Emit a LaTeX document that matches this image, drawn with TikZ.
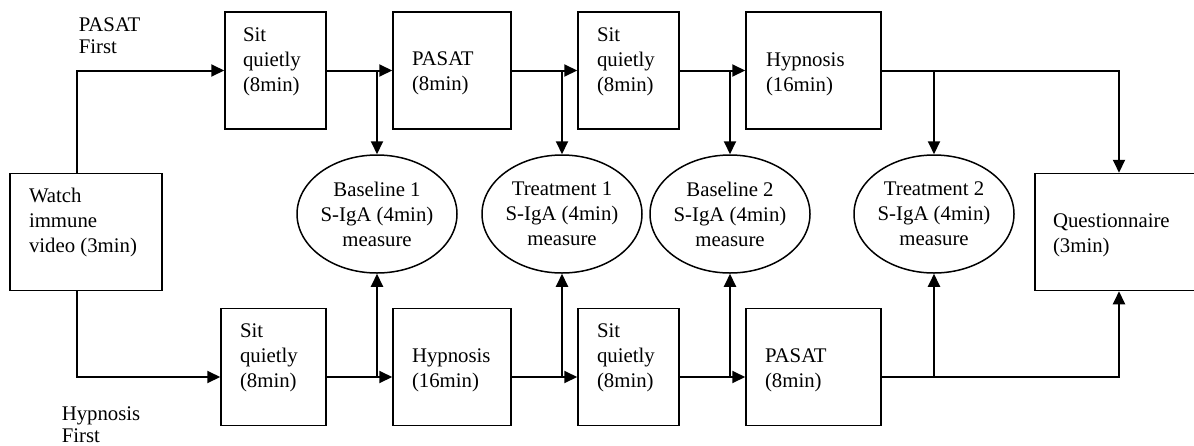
\documentclass[tikz,border=0pt]{standalone}
\usepackage{fontspec}
\setmainfont{Liberation Serif}
\usetikzlibrary{arrows.meta,shapes.geometric,positioning,calc}
\tikzset{every picture/.style={line width=0.75pt}}

\begin{document}
\begin{tikzpicture}[x=0.5pt,y=-0.5pt,
    box/.style={draw, rectangle, inner sep=0pt, minimum height=58.5pt},
    oval/.style={draw, ellipse, minimum width=80pt, minimum height=59pt, inner sep=0pt,
                 align=center, font=\fontsize{10.4}{12.5}\selectfont},
    txt/.style={anchor=north west, inner sep=0pt, align=left, font=\fontsize{10.4}{12.5}\selectfont},
    grp/.style={txt, font=\fontsize{10.4}{11}\selectfont},
    arr/.style={line width=1pt, -{Triangle[length=6.5pt,width=6pt]}}]
    \useasboundingbox (0,0) rectangle (1194,445);
    \clip (0,0) rectangle (1194,445);

    % start and end
    \node[box, minimum width=76pt] (w) at (86,232) {};
    \node[box, minimum width=84pt] (q) at (1119,232) {};

    % PASAT first row
    \node[box, minimum width=50.5pt] (ts1) at (275.5,70.5) {};
    \node[box, minimum width=59pt]   (tp)  at (452,70.5) {};
    \node[box, minimum width=50.5pt] (ts2) at (628.5,70.5) {};
    \node[box, minimum width=67.5pt] (th)  at (813.5,70.5) {};

    % Hypnosis first row
    \node[box, minimum width=52.5pt] (bs1) at (273.5,367) {};
    \node[box, minimum width=59pt]   (bh)  at (452,367) {};
    \node[box, minimum width=50.5pt] (bs2) at (628.5,367) {};
    \node[box, minimum width=67.5pt] (bp)  at (813.5,367) {};

    % saliva samples
    \node[oval] (b1) at (377,214) {Baseline 1\\S-IgA (4min)\\measure};
    \node[oval] (t1) at (562,214) {Treatment 1\\S-IgA (4min)\\measure};
    \node[oval] (b2) at (730,214) {Baseline 2\\S-IgA (4min)\\measure};
    \node[oval] (t2) at (934,214) {Treatment 2\\S-IgA (4min)\\measure};

    % box texts
    \node[txt] (wt)   at ($(w.north west)+(19,15)$)   {Watch\\immune\\video (3min)};
    \node[txt] (qt)   at ($(q.north west)+(18,40)$)   {Questionnaire\\(3min)};
    \node[txt] (ts1t) at ($(ts1.north west)+(18,16)$) {Sit\\quietly\\(8min)};
    \node[txt] (tpt)  at ($(tp.north west)+(19,40)$)  {PASAT\\(8min)};
    \node[txt] (ts2t) at ($(ts2.north west)+(19,16)$) {Sit\\quietly\\(8min)};
    \node[txt] (tht)  at ($(th.north west)+(20,41)$)  {Hypnosis\\(16min)};
    \node[txt] (bs1t) at ($(bs1.north west)+(19,15)$) {Sit\\quietly\\(8min)};
    \node[txt] (bht)  at ($(bh.north west)+(19,40)$)  {Hypnosis\\(16min)};
    \node[txt] (bs2t) at ($(bs2.north west)+(19,15)$) {Sit\\quietly\\(8min)};
    \node[txt] (bpt)  at ($(bp.north west)+(19,40)$)  {PASAT\\(8min)};

    % group labels
    \node[grp] (lpasat) at (78,17)  {PASAT\\First};
    \node[grp] (lhyp)   at (61,406) {Hypnosis\\First};

    % upper path
    \coordinate (low) at (0,377);
    \draw[arr] ([xshift=-4.5pt]w.north) |- (ts1.west);
    \draw[arr] (ts1.east) -- (tp.west);
    \draw[arr] (tp.east) -- (ts2.west);
    \draw[arr] (ts2.east) -- (th.west);
    \draw[arr] (th.east) -| (q.north);
    \draw[arr] (b1.north |- ts1.east) -- (b1.north);
    \draw[arr] (t1.north |- tp.east) -- (t1.north);
    \draw[arr] (b2.north |- ts2.east) -- (b2.north);
    \draw[arr] (t2.north |- th.east) -- (t2.north);

    % lower path
    \draw[arr] ([xshift=-4.5pt]w.south) |- (bs1.west |- low);
    \draw[arr] (bs1.east |- low) -- (bh.west |- low);
    \draw[arr] (bh.east |- low) -- (bs2.west |- low);
    \draw[arr] (bs2.east |- low) -- (bp.west |- low);
    \draw[arr] (bp.east |- low) -| (q.south);
    \draw[arr] (b1.south |- low) -- (b1.south);
    \draw[arr] (t1.south |- low) -- (t1.south);
    \draw[arr] (b2.south |- low) -- (b2.south);
    \draw[arr] (t2.south |- low) -- (t2.south);
\end{tikzpicture}
\end{document}
